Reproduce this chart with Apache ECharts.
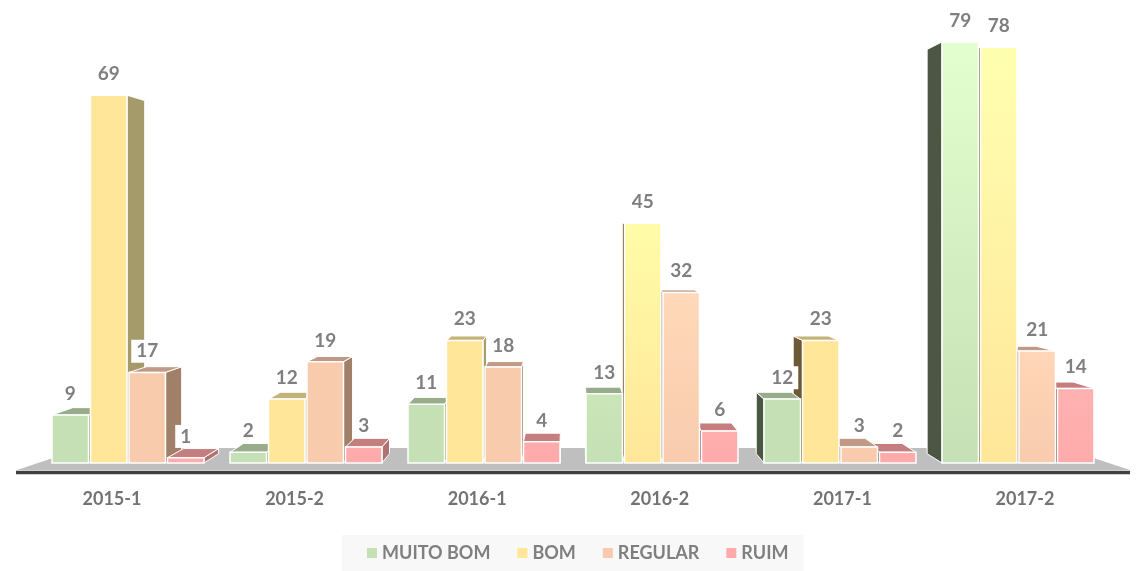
<!DOCTYPE html>
<html>
<head>
<meta charset="utf-8">
<script src="https://cdn.jsdelivr.net/npm/echarts@6/dist/echarts.min.js"></script>
<style>
  html, body { margin: 0; padding: 0; background: #ffffff; }
  #chart { width: 1137px; height: 571px; }
</style>
</head>
<body>
<div id="chart"></div>
<script>
// Semesters on the category axis
const categories = ['2015-1', '2015-2', '2016-1', '2016-2', '2017-1', '2017-2'];
const seriesNames = ['MUITO BOM', 'BOM', 'REGULAR', 'RUIM'];

// Number of answers per rating and semester
const muitoBom = [9, 2, 11, 13, 12, 79];
const bom      = [69, 12, 23, 45, 23, 78];
const regular  = [17, 19, 18, 32, 3, 21];
const ruim     = [1, 3, 4, 6, 2, 14];

const seriesValues = [muitoBom, bom, regular, ruim];

// Face colours of each box: front, top, right side, left side
const palette = [
  { front: '#C5E0B4', top: '#97AC88', right: '#8B9D7F', left: '#4B5645' },
  { front: '#FFE699', top: '#C4B377', right: '#A59A6A', left: '#6B5A35' },
  { front: '#F8CBAD', top: '#C19A86', right: '#A08068', left: '#6A5040' },
  { front: '#FFABAB', top: '#C47E7E', right: '#B07272', left: '#6E4646' }
];
// Light sheen on the front faces of some semester groups (0 = flat)
const sheen = [0, 0, 0, 0.8, 0, 1];

// Perspective: vanishing point and depth of the boxes
const VX = 570, VY = 230, DEPTH = 0.04;
function toBack(x, y) {
  return [x + (VX - x) * DEPTH, y + (VY - y) * DEPTH];
}

function brighten(hex, f) {
  const n = parseInt(hex.slice(1), 16);
  const c = [(n >> 16) & 255, (n >> 8) & 255, n & 255].map(function (v) {
    return Math.min(255, Math.round(v * f));
  });
  return 'rgb(' + c.join(',') + ')';
}

function boxRenderer(si) {
  return function (params, api) {
    const cat = api.value(0);
    const v = api.value(1);
    const band = api.size([1, 0])[0];
    const base = api.coord([cat, 0]);
    const tip = api.coord([cat, v]);
    const w = band * 0.205;
    const x0 = base[0] + band * (-0.427 + si * 0.2163);
    const x1 = x0 + w;
    const yt = tip[1];
    const yb = base[1];
    const col = palette[si];
    const dist = Math.abs((x0 + x1) / 2 - VX);
    const zb = Math.round(2000 - dist) * 4;
    const children = [];

    if (x1 < VX) {
      const a = toBack(x1, yt), b = toBack(x1, yb);
      children.push({
        type: 'polygon', z2: zb,
        shape: { points: [[x1, yt], a, b, [x1, yb]] },
        style: { fill: col.right, stroke: '#ffffff', lineWidth: 1 }
      });
    } else if (x0 > VX) {
      const a = toBack(x0, yt), b = toBack(x0, yb);
      children.push({
        type: 'polygon', z2: zb,
        shape: { points: [[x0, yt], a, b, [x0, yb]] },
        style: { fill: col.left, stroke: '#ffffff', lineWidth: 1 }
      });
    }
    if (yt > VY) {
      children.push({
        type: 'polygon', z2: zb + 1,
        shape: { points: [[x0, yt], [x1, yt], toBack(x1, yt), toBack(x0, yt)] },
        style: { fill: col.top, stroke: '#ffffff', lineWidth: 1 }
      });
    }
    // taller boxes catch more of the sheen
    const s = sheen[cat] * Math.min(1, (yb - yt) / 300);
    const fill = s > 0.05 ? {
      type: 'linear', x: 0, y: 0, x2: 0, y2: 1,
      colorStops: [
        { offset: 0, color: brighten(col.front, 1 + 0.15 * s) },
        { offset: 1, color: col.front }
      ]
    } : col.front;
    children.push({
      type: 'rect', z2: zb + 2,
      shape: { x: x0, y: yt, width: w, height: yb - yt },
      style: { fill: fill, stroke: '#ffffff', lineWidth: 1.5 },
      textContent: {
        z2: zb + 3,
        style: {
          text: String(v),
          fill: '#7F7F7F',
          font: 'bold 19px Lato',
          backgroundColor: '#ffffff',
          padding: [2, 5]
        }
      },
      textConfig: { position: 'top', distance: 9 }
    });
    return { type: 'group', children: children };
  };
}

const chart = echarts.init(document.getElementById('chart'), null, { renderer: 'canvas' });

const option = {
  animation: false,
  backgroundColor: '#ffffff',
  grid: [
    { left: 39, right: 30, top: 36.6, bottom: 108 },
    { left: 20.7, right: 20.7, top: 36.6, bottom: 108 }
  ],
  xAxis: [
    { type: 'category', gridIndex: 0, data: categories, show: false },
    {
      type: 'category', gridIndex: 1, data: categories,
      axisLine: { show: false }, axisTick: { show: false },
      axisLabel: { color: '#737373', fontSize: 18, fontWeight: 'bold', fontFamily: 'Lato', margin: 27 }
    }
  ],
  yAxis: [
    { type: 'value', gridIndex: 0, min: 0, max: 80, show: false },
    { type: 'value', gridIndex: 1, min: 0, max: 80, show: false }
  ],
  legend: {
    data: seriesNames,
    left: 342, top: 535,
    padding: [9, 15, 9, 25],
    backgroundColor: '#F8F8F8',
    icon: 'rect', itemWidth: 10, itemHeight: 10, itemGap: 27,
    textStyle: { color: '#7F7F7F', fontSize: 18, fontWeight: 'bold', fontFamily: 'Lato' }
  },
  graphic: [
    {
      type: 'polygon', z: 0,
      shape: { points: [[17, 470], [1130, 470], [1063, 448], [83, 448]] },
      style: { fill: '#BFBFBF' }
    },
    {
      type: 'line', z: 0,
      shape: { x1: 16, y1: 472.5, x2: 1130, y2: 472.5 },
      style: { stroke: '#404040', lineWidth: 3.5 }
    }
  ],
  series: seriesNames.map(function (name, si) {
    return {
      name: name,
      type: 'custom',
      xAxisIndex: 0, yAxisIndex: 0,
      itemStyle: { color: palette[si].front },
      encode: { x: 0, y: 1 },
      data: seriesValues[si].map(function (v, i) { return [i, v]; }),
      renderItem: boxRenderer(si)
    };
  })
};

chart.setOption(option);
</script>
</body>
</html>
